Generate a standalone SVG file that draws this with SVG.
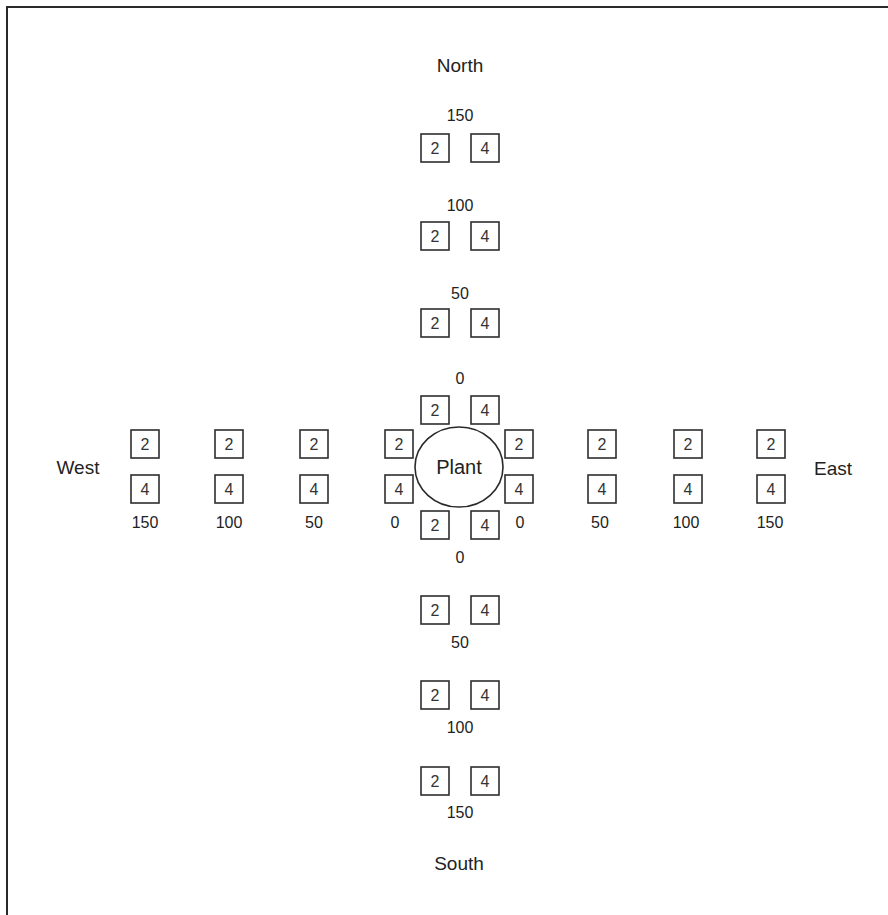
<svg xmlns="http://www.w3.org/2000/svg" width="888" height="915" viewBox="0 0 888 915">
<style>
.frame{stroke:#2a2a2a;stroke-width:2;fill:none}
.box{fill:#fff;stroke:#2e2e2e;stroke-width:1.6}
.plant{fill:#fff;stroke:#2a2a2a;stroke-width:1.6}
.d{font-family:"Liberation Sans",Arial,sans-serif;font-size:16px;fill:#333;text-anchor:middle}
.n{font-family:"Liberation Sans",Arial,sans-serif;font-size:16px;fill:#222;text-anchor:middle}
.w{font-family:"Liberation Sans",Arial,sans-serif;font-size:19px;fill:#222;text-anchor:middle}
.p{font-family:"Liberation Sans",Arial,sans-serif;font-size:20px;fill:#222;text-anchor:middle}
</style>
<defs>
<g id="b2"><rect class="box" x="-14" y="-14" width="28" height="28"/><text class="d" x="0" y="5.7">2</text></g>
<g id="b4"><rect class="box" x="-14" y="-14" width="28" height="28"/><text class="d" x="0" y="5.7">4</text></g>
</defs>
<rect width="888" height="915" fill="#fff"/>
<path class="frame" d="M7 915 V7 H888"/>

<g id="label-north"><text class="w" x="460" y="72">North</text></g>
<g id="label-south"><text class="w" x="459" y="870">South</text></g>
<g id="label-west"><text class="w" x="78" y="474">West</text></g>
<g id="label-east"><text class="w" x="833" y="475">East</text></g>

<g id="plant"><ellipse class="plant" cx="459" cy="467" rx="44" ry="40"/><text class="p" x="459" y="474">Plant</text></g>

<g id="north-150"><text class="n" x="460" y="121">150</text><use href="#b2" x="435" y="148"/><use href="#b4" x="485" y="148"/></g>
<g id="north-100"><text class="n" x="460" y="211">100</text><use href="#b2" x="435" y="236"/><use href="#b4" x="485" y="236"/></g>
<g id="north-50"><text class="n" x="460" y="299">50</text><use href="#b2" x="435" y="323"/><use href="#b4" x="485" y="323"/></g>
<g id="north-0"><text class="n" x="460" y="384">0</text><use href="#b2" x="435" y="410"/><use href="#b4" x="485" y="410"/></g>

<g id="south-0"><use href="#b2" x="435" y="525"/><use href="#b4" x="485" y="525"/><text class="n" x="460" y="563">0</text></g>
<g id="south-50"><use href="#b2" x="435" y="610"/><use href="#b4" x="485" y="610"/><text class="n" x="460" y="648">50</text></g>
<g id="south-100"><use href="#b2" x="435" y="695"/><use href="#b4" x="485" y="695"/><text class="n" x="460" y="733">100</text></g>
<g id="south-150"><use href="#b2" x="435" y="781"/><use href="#b4" x="485" y="781"/><text class="n" x="460" y="818">150</text></g>

<g id="west-150"><use href="#b2" x="145" y="444"/><use href="#b4" x="145" y="489"/><text class="n" x="145" y="528">150</text></g>
<g id="west-100"><use href="#b2" x="229" y="444"/><use href="#b4" x="229" y="489"/><text class="n" x="229" y="528">100</text></g>
<g id="west-50"><use href="#b2" x="314" y="444"/><use href="#b4" x="314" y="489"/><text class="n" x="314" y="528">50</text></g>
<g id="west-0"><use href="#b2" x="399" y="444"/><use href="#b4" x="399" y="489"/><text class="n" x="395" y="528">0</text></g>

<g id="east-0"><use href="#b2" x="519" y="444"/><use href="#b4" x="519" y="489"/><text class="n" x="520" y="528">0</text></g>
<g id="east-50"><use href="#b2" x="602" y="444"/><use href="#b4" x="602" y="489"/><text class="n" x="600" y="528">50</text></g>
<g id="east-100"><use href="#b2" x="688" y="444"/><use href="#b4" x="688" y="489"/><text class="n" x="686" y="528">100</text></g>
<g id="east-150"><use href="#b2" x="771" y="444"/><use href="#b4" x="771" y="489"/><text class="n" x="770" y="528">150</text></g>
</svg>
